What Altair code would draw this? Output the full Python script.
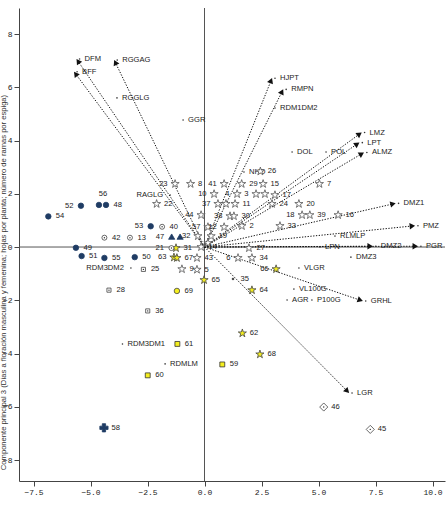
import altair as alt
import numpy as np
import pandas as pd

# ---------------------------------------------------------------------------
# Variables (biplot vectors): coordinates on PC1 (x) and PC3 (y)
# ---------------------------------------------------------------------------
var_names = ["DFM", "BFF", "RGGAG", "RGGLG", "GGR", "HJPT", "RMPN", "RDM1DM2",
             "DOL", "POL", "LMZ", "LPT", "ALMZ", "NHD", "RAGLG", "DMZ1", "PMZ",
             "RLMLP", "LPN", "DMZ2", "PGR", "DMZ3", "VLGR", "VL100G", "AGR",
             "P100G", "GRHL", "RDM3DM2", "RDM3DM1", "RDMLM", "LGR"]
var_x = [-5.61, -5.72, -3.96, -3.97, -1.07, 2.96, 3.45, 2.96,
         3.71, 5.20, 6.89, 6.79, 6.99, 1.60, -1.64, 8.38, 9.23,
         5.59, 4.93, 7.38, 9.36, 6.29, 4.01, 3.79, 3.49,
         4.58, 6.94, -3.36, -3.73, -1.86, 6.34]
var_y = [7.06, 6.58, 7.02, 5.60, 4.77, 6.34, 5.92, 5.22,
         3.57, 3.57, 4.30, 3.92, 3.55, 2.82, 1.95, 1.64, 0.80,
         0.41, 0.00, 0.03, 0.03, -0.38, -0.79, -1.58, -1.99,
         -1.99, -2.03, -0.79, -3.64, -4.39, -5.48]
arrow_vars = ["DFM", "BFF", "RGGAG", "HJPT", "RMPN", "LMZ", "LPT", "ALMZ",
              "DMZ1", "PMZ", "DMZ2", "PGR", "GRHL", "LGR"]
var_left = ["RDM3DM2", "RAGLG"]

# ---------------------------------------------------------------------------
# Genotypes (scores), with their group
# ---------------------------------------------------------------------------
obs_labels = ["23", "8", "41", "29", "15", "7", "26", "10", "4", "3", "", "17",
              "22", "37", "", "11", "24", "20", "44", "38", "30", "18", "39", "16",
              "57", "12", "2", "33", "32", "19", "14", "", "27", "43", "6", "34",
              "9", "5",
              "31", "63", "67", "65", "64", "66", "62", "68",
              "40", "42", "13", "21",
              "56", "48", "52", "54", "53", "49", "51", "55", "50",
              "47", "",
              "69",
              "25", "28", "36",
              "61", "60", "59",
              "58",
              "46", "45",
              "35"]
obs_x = [-1.29, -0.61, 0.86, 1.63, 2.57, 5.04, 2.45, 0.42, 1.43, 2.26, 2.65, 3.09,
         -2.10, 0.59, 0.94, 1.34, 2.96, 4.14, -0.15, 1.12, 1.29, 4.28, 4.62, 5.86,
         0.15, 0.86, 1.64, 3.31, -0.29, 0.29, -0.15, 0.15, 1.95, -0.33, 1.47, 2.08,
         -0.99, -0.33,
         -1.25, -1.34, -1.21, -0.02, 2.08, 3.14, 1.66, 2.43,
         -1.86, -4.39, -3.27, -1.45,
         -4.63, -4.32, -5.42, -6.85, -2.36, -5.64, -5.39, -4.39, -3.06,
         -1.44, -1.07,
         -1.21,
         -2.68, -4.19, -2.49,
         -1.19, -2.49, 0.78,
         -4.41,
         5.23, 7.27,
         1.25]
obs_y = [2.37, 2.37, 2.37, 2.37, 2.37, 2.37, 2.84, 1.99, 1.99, 1.99, 1.99, 1.95,
         1.62, 1.62, 1.62, 1.62, 1.62, 1.62, 1.20, 1.16, 1.16, 1.20, 1.20, 1.20,
         0.75, 0.75, 0.79, 0.79, 0.41, 0.41, 0.00, 0.15, -0.04, -0.41, -0.41, -0.41,
         -0.83, -0.85,
         -0.04, -0.39, -0.41, -1.24, -1.62, -0.83, -3.24, -4.03,
         0.76, 0.35, 0.35, -0.04,
         1.58, 1.58, 1.55, 1.15, 0.78, -0.03, -0.34, -0.41, -0.38,
         0.39, 0.39,
         -1.65,
         -0.84, -1.62, -2.40,
         -3.64, -4.82, -4.41,
         -6.79,
         -6.01, -6.85,
         -1.20]
obs_group = (["estrella"] * 38 + ["estrella amarilla"] * 8 + ["círculo abierto"] * 4
             + ["círculo azul"] * 9 + ["triángulo"] * 2 + ["círculo amarillo"]
             + ["cuadro abierto"] * 3 + ["cuadro amarillo"] * 3 + ["cruz"]
             + ["rombo"] * 2 + ["punto"])

labels_left = ["23", "41", "10", "4", "3", "37", "44", "38", "18", "57", "12",
               "32", "6", "63", "66", "21", "52", "53", "47"]
labels_top = ["56"]

Y_TITLE = ("Componente principal 3 (Días a floración masculina y femenina; "
           "hojas por planta; número de ramas por espiga)")

# ---------------------------------------------------------------------------
# Scales and styling
# ---------------------------------------------------------------------------
X_DOMAIN = [-8.136, 10.548]
Y_DOMAIN = [-8.788, 8.977]
W, H = 426, 473
PX_X = W / (X_DOMAIN[1] - X_DOMAIN[0])
PX_Y = H / (Y_DOMAIN[1] - Y_DOMAIN[0])

NAVY = "#1f3c64"
YELLOW = "#f4ee1f"
FONT = "Liberation Sans"

STAR = ("M0,-1L0.2245,-0.309L0.9511,-0.309L0.3633,0.118L0.5878,0.809L0,0.382"
        "L-0.5878,0.809L-0.3633,0.118L-0.9511,-0.309L-0.2245,-0.309Z")

groups = ["estrella", "estrella amarilla", "círculo azul", "círculo abierto",
          "triángulo", "cuadro abierto", "cuadro amarillo", "círculo amarillo",
          "rombo", "cruz", "punto"]
g_shape = [STAR, STAR, "circle", "circle", "triangle-up", "square", "square",
           "circle", "diamond", "cross", "circle"]
g_fill = ["white", YELLOW, NAVY, "white", NAVY, "white", YELLOW, YELLOW,
          "white", NAVY, "#333333"]
g_stroke = ["#555555", "#444444", NAVY, "#444444", NAVY, "#444444", "#333333",
            "#444444", "#444444", NAVY, "#333333"]
g_size = [74, 74, 30, 25, 38, 17, 24, 30, 66, 68, 3]

xscale = alt.Scale(domain=X_DOMAIN, nice=False, zero=False)
yscale = alt.Scale(domain=Y_DOMAIN, nice=False, zero=False)

xaxis = alt.Axis(values=[-7.5, -5, -2.5, 0, 2.5, 5, 7.5, 10], format=".1f",
                 grid=False, tickSize=5, labelPadding=2, title=None,
                 labelFont="Liberation Mono", labelFontSize=8, labelColor="#222222",
                 domainColor="#444444", tickColor="#444444")
yaxis = alt.Axis(values=list(range(-8, 9, 2)), format="d", grid=False, tickSize=5,
                 labelPadding=2, labelFont="Liberation Mono", labelFontSize=8,
                 labelColor="#222222", domainColor="#444444", tickColor="#444444",
                 title=Y_TITLE, titleFont=FONT, titleFontSize=7.6,
                 titleFontWeight="normal", titleColor="#333333", titleAngle=270,
                 titleAlign="center", titleBaseline="middle", titleX=-16, titleY=274)


def X(field):
    return alt.X(f"{field}:Q", scale=xscale, axis=xaxis)


def Y(field):
    return alt.Y(f"{field}:Q", scale=yscale, axis=yaxis)


# ---------------------------------------------------------------------------
# Data frames
# ---------------------------------------------------------------------------
vars_df = pd.DataFrame({"variable": var_names, "x": var_x, "y": var_y})
vars_df["lado"] = np.where(vars_df["variable"].isin(var_left), "izq", "der")

arr = vars_df[vars_df["variable"].isin(arrow_vars)].copy()
sx = arr["x"] * PX_X
sy = arr["y"] * PX_Y
length = np.hypot(sx, sy)
arr["angulo"] = (np.degrees(np.arctan2(sx, sy)) + 360) % 360
# pull the head centre back along the vector so its tip lands on the end point
HEAD_BACK = 2.6
arr["hx"] = arr["x"] - HEAD_BACK * (sx / length) / PX_X
arr["hy"] = arr["y"] - HEAD_BACK * (sy / length) / PX_Y
arr["x0"] = 0.0
arr["y0"] = 0.0

obs_df = pd.DataFrame({"etiqueta": obs_labels, "x": obs_x, "y": obs_y,
                       "grupo": obs_group})
obs_df["lado"] = np.select(
    [obs_df["etiqueta"] == "", obs_df["etiqueta"].isin(labels_left),
     obs_df["etiqueta"].isin(labels_top)],
    ["ninguno", "izq", "arriba"], default="der")
# symbol area for each group, used directly (no scale)
obs_df["tam"] = obs_df["grupo"].map(dict(zip(groups, g_size)))

# ---------------------------------------------------------------------------
# Layers
# ---------------------------------------------------------------------------
zero_v = alt.Chart(pd.DataFrame({"v": [0.0]})).mark_rule(
    color="#555555", strokeWidth=1).encode(x=X("v"))
zero_h = alt.Chart(pd.DataFrame({"v": [0.0]})).mark_rule(
    color="#555555", strokeWidth=1).encode(y=Y("v"))

segments = alt.Chart(arr).mark_rule(
    color="#111111", strokeWidth=1, strokeDash=[1.3, 1.5]).encode(
    x=X("x0"), y=Y("y0"), x2="hx:Q", y2="hy:Q")

heads = alt.Chart(arr).mark_point(
    shape="triangle-up", filled=True, color="#111111", size=40, opacity=1).encode(
    x=X("hx"), y=Y("hy"), angle=alt.Angle("angulo:Q", scale=None))

var_dots = alt.Chart(vars_df).mark_point(
    filled=True, color="#333333", size=2.5, opacity=1, xOffset=3).encode(
    x=X("x"), y=Y("y"))

var_text_r = alt.Chart(vars_df).transform_filter(alt.datum.lado == "der").mark_text(
    align="left", baseline="middle", dx=8, font=FONT, fontSize=7.6,
    color="#222222").encode(x=X("x"), y=Y("y"), text="variable:N")
var_text_l = alt.Chart(vars_df).transform_filter(alt.datum.lado == "izq").mark_text(
    align="right", baseline="middle", dx=-4, font=FONT, fontSize=7.6,
    color="#222222").encode(x=X("x"), y=Y("y"), text="variable:N")

points = alt.Chart(obs_df).mark_point(filled=True, opacity=1, strokeWidth=0.8).encode(
    x=X("x"), y=Y("y"),
    shape=alt.Shape("grupo:N", scale=alt.Scale(domain=groups, range=g_shape), legend=None),
    fill=alt.Fill("grupo:N", scale=alt.Scale(domain=groups, range=g_fill), legend=None),
    stroke=alt.Stroke("grupo:N", scale=alt.Scale(domain=groups, range=g_stroke), legend=None),
    size=alt.Size("tam:Q", scale=None),
)

centre_dots = alt.Chart(obs_df).transform_filter(
    alt.FieldOneOfPredicate(field="grupo", oneOf=["círculo abierto", "cuadro abierto", "rombo"])
).mark_point(filled=True, color="#333333", size=2, opacity=1).encode(x=X("x"), y=Y("y"))

lab_r = alt.Chart(obs_df).transform_filter(alt.datum.lado == "der").mark_text(
    align="left", baseline="middle", dx=7.5, font=FONT, fontSize=7.6,
    color="#222222").encode(x=X("x"), y=Y("y"), text="etiqueta:N")
lab_l = alt.Chart(obs_df).transform_filter(alt.datum.lado == "izq").mark_text(
    align="right", baseline="middle", dx=-7.5, font=FONT, fontSize=7.6,
    color="#222222").encode(x=X("x"), y=Y("y"), text="etiqueta:N")
lab_t = alt.Chart(obs_df).transform_filter(alt.datum.lado == "arriba").mark_text(
    align="center", baseline="middle", dx=4, dy=-11, font=FONT, fontSize=7.6,
    color="#222222").encode(x=X("x"), y=Y("y"), text="etiqueta:N")

chart = alt.layer(
    zero_v, zero_h, segments, heads, var_dots, var_text_r, var_text_l,
    points, centre_dots, lab_r, lab_l, lab_t
).properties(
    width=W, height=H,
    autosize=alt.AutoSizeParams(type="none"),
    padding={"left": 19, "top": 8, "right": 2, "bottom": 24},
    background="white",
).configure_view(stroke=None)

chart.save("out.html", embed_options={"renderer": "svg", "actions": False})
